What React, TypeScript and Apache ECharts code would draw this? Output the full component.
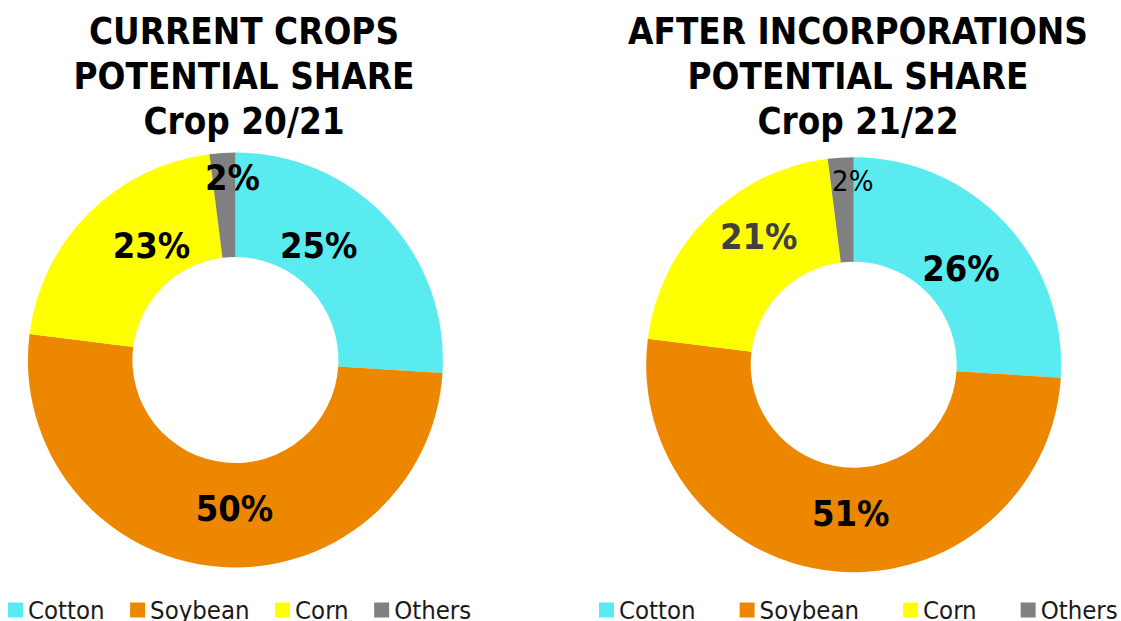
import React, { useEffect, useRef } from "react";
import * as echarts from "echarts";

const categories = ["Cotton", "Soybean", "Corn", "Others"];
// slice sizes as drawn
const currentValues = [26, 51, 21, 2];
const afterValues = [26, 51, 21, 2];
// percentages printed on the slices
const currentLabels = [25, 50, 23, 2];
const afterLabels = [26, 51, 21, 2];

const leftTitle = "CURRENT CROPS\nPOTENTIAL SHARE\nCrop 20/21";
const rightTitle = "AFTER INCORPORATIONS\nPOTENTIAL SHARE\nCrop 21/22";

const colors = ["#59EBF0", "#EE8700", "#FFFF00", "#808080"];
const FONT = "'DejaVu Sans Condensed', 'DejaVu Sans', sans-serif";

// label styling / nudges (Excel-like placement)
const leftLabelOffsets = [[-32, -6], [14, -9], [28, -3], [7, -25]];
const rightLabelOffsets = [[-8, 12], [12, -9], [17, -16], [9, -26]];
const rightLabelStyles = [
  { color: "#000", fontWeight: "bold", fontSize: 36 },
  { color: "#000", fontWeight: "bold", fontSize: 36 },
  { color: "#404040", fontWeight: "bold", fontSize: 36 },
  { color: "#000", fontWeight: "normal", fontSize: 29 },
];

function buildData(values: number[], labels: number[], offsets: number[][], styles?: any[]) {
  return values.map((v, i) => ({
    value: v,
    name: categories[i],
    itemStyle: { color: colors[i] },
    label: {
      formatter: labels[i] + "%",
      offset: offsets[i],
      ...(styles ? styles[i] : {}),
    },
  }));
}

export default function App() {
  const ref = useRef<HTMLDivElement>(null);
  useEffect(() => {
    document.body.style.margin = "0";
    const chart = echarts.init(ref.current!, null, { renderer: "svg" });
    const baseLabel = {
      show: true,
      position: "inside",
      fontFamily: FONT,
      fontSize: 36,
      fontWeight: "bold",
      color: "#000",
    };
    const titleStyle = {
      fontFamily: FONT,
      fontSize: 36.5,
      fontWeight: "bold",
      color: "#000",
      lineHeight: 45,
    };
    const legendCommon = {
      orient: "horizontal",
      icon: "rect",
      itemWidth: 15,
      itemHeight: 15,
      top: 597,
      width: 540,
      padding: 0,
      data: categories,
      selectedMode: false,
      textStyle: { fontFamily: FONT, fontSize: 25.5, color: "#1a1a1a" },
    };
    chart.setOption({
      animation: false,
      backgroundColor: "#fff",
      color: colors,
      title: [
        { text: leftTitle, left: 244, top: 9, textAlign: "center", padding: 0, textStyle: titleStyle },
        { text: rightTitle, left: 858, top: 9, textAlign: "center", padding: 0, textStyle: titleStyle },
      ],
      legend: [
        { ...legendCommon, left: 8, itemGap: 25.5 },
        { ...legendCommon, left: 599, itemGap: 44 },
      ],
      series: [
        {
          type: "pie",
          center: [235.4, 360],
          radius: [103, 207.5],
          startAngle: 90,
          clockwise: true,
          avoidLabelOverlap: false,
          emphasis: { disabled: true },
          itemStyle: { borderWidth: 0 },
          label: baseLabel,
          labelLine: { show: false },
          data: buildData(currentValues, currentLabels, leftLabelOffsets),
        },
        {
          type: "pie",
          center: [853.7, 364.7],
          radius: [103, 207.5],
          startAngle: 90,
          clockwise: true,
          avoidLabelOverlap: false,
          emphasis: { disabled: true },
          itemStyle: { borderWidth: 0 },
          label: baseLabel,
          labelLine: { show: false },
          data: buildData(afterValues, afterLabels, rightLabelOffsets, rightLabelStyles),
        },
      ],
    });
    return () => chart.dispose();
  }, []);
  return <div ref={ref} style={{ width: 1121, height: 621 }} />;
}
